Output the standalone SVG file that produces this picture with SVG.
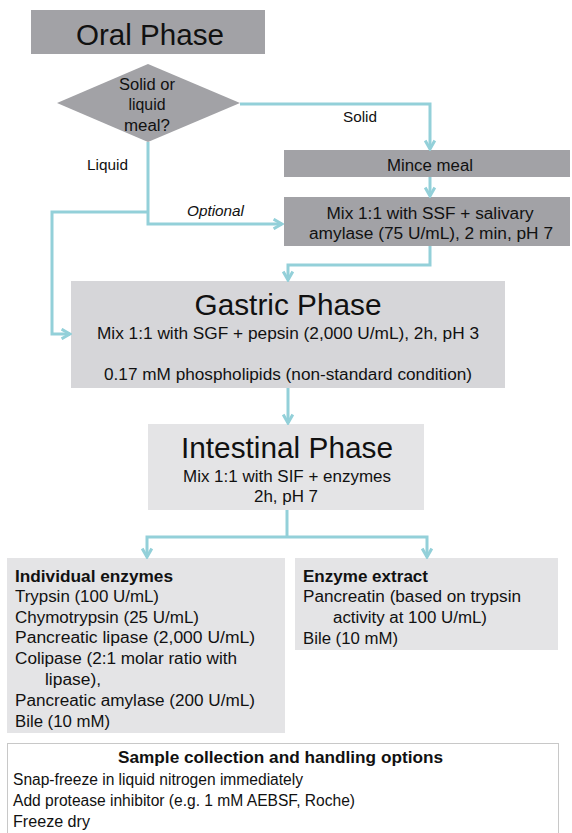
<svg xmlns="http://www.w3.org/2000/svg" width="572" height="833" viewBox="0 0 572 833">
<style>
text{font-family:"Liberation Sans",Arial,sans-serif;fill:#111;font-size:16px}
.dark{fill:#a2a2a6}
.light{fill:#d6d6d9}
.lighter{fill:#e4e4e6}
.c{text-anchor:middle}
.con{fill:none;stroke:#93d0d9;stroke-width:3;stroke-linejoin:miter}
.b{font-weight:bold}
.lbl{font-size:15px}
</style>
<defs>
<marker id="ah" viewBox="0 0 10 10" refX="8" refY="5" markerWidth="4" markerHeight="4" orient="auto" markerUnits="strokeWidth">
<path d="M1,1 L8,5 L1,9" fill="none" stroke="#93d0d9" stroke-width="2.5"/>
</marker>
</defs>
<g id="oral">
<rect class="dark" x="31" y="10" width="234" height="44"/>
<text class="c" x="150" y="45" style="font-size:30px" textLength="148" lengthAdjust="spacingAndGlyphs">Oral Phase</text>
</g>
<g id="decision">
<polygon class="dark" points="148,64 240,103 148,142 57,103"/>
<text class="c" x="147" y="90" textLength="56" lengthAdjust="spacingAndGlyphs">Solid or</text>
<text class="c" x="147" y="110" textLength="37" lengthAdjust="spacingAndGlyphs">liquid</text>
<text class="c" x="147" y="131" textLength="46" lengthAdjust="spacingAndGlyphs">meal?</text>
</g>
<g id="mince">
<rect class="dark" x="284" y="150" width="286" height="27"/>
<text class="c" x="430" y="171" textLength="86" lengthAdjust="spacingAndGlyphs">Mince meal</text>
</g>
<g id="mix-ssf">
<rect class="dark" x="284" y="197" width="286" height="49"/>
<text class="c" x="430" y="219" textLength="207" lengthAdjust="spacingAndGlyphs">Mix 1:1 with SSF + salivary</text>
<text class="c" x="431" y="239" textLength="244" lengthAdjust="spacingAndGlyphs">amylase (75 U/mL), 2 min, pH 7</text>
</g>
<g id="gastric">
<rect class="light" x="71" y="281" width="434" height="107"/>
<text class="c" x="288" y="315" style="font-size:29px" textLength="187" lengthAdjust="spacingAndGlyphs">Gastric Phase</text>
<text class="c" x="288" y="339" textLength="382" lengthAdjust="spacingAndGlyphs">Mix 1:1 with SGF + pepsin (2,000 U/mL), 2h, pH 3</text>
<text class="c" x="288" y="380" textLength="368" lengthAdjust="spacingAndGlyphs">0.17 mM phospholipids (non-standard condition)</text>
</g>
<g id="intestinal">
<rect class="lighter" x="148" y="424" width="276" height="86"/>
<text class="c" x="287" y="458" style="font-size:30px" textLength="212" lengthAdjust="spacingAndGlyphs">Intestinal Phase</text>
<text class="c" x="287" y="482" textLength="208" lengthAdjust="spacingAndGlyphs">Mix 1:1 with SIF + enzymes</text>
<text class="c" x="286" y="502" textLength="64" lengthAdjust="spacingAndGlyphs">2h, pH 7</text>
</g>
<g id="individual">
<rect class="lighter" x="7" y="558" width="278" height="175"/>
<text class="b" x="15" y="582" textLength="158" lengthAdjust="spacingAndGlyphs">Individual enzymes</text>
<text x="15" y="602" textLength="144" lengthAdjust="spacingAndGlyphs">Trypsin (100 U/mL)</text>
<text x="15" y="623" textLength="184" lengthAdjust="spacingAndGlyphs">Chymotrypsin (25 U/mL)</text>
<text x="15" y="643" textLength="240" lengthAdjust="spacingAndGlyphs">Pancreatic lipase (2,000 U/mL)</text>
<text x="15" y="664" textLength="222" lengthAdjust="spacingAndGlyphs">Colipase (2:1 molar ratio with</text>
<text x="45" y="685" textLength="56" lengthAdjust="spacingAndGlyphs">lipase),</text>
<text x="15" y="706" textLength="240" lengthAdjust="spacingAndGlyphs">Pancreatic amylase (200 U/mL)</text>
<text x="15" y="727" textLength="95" lengthAdjust="spacingAndGlyphs">Bile (10 mM)</text>
</g>
<g id="extract">
<rect class="lighter" x="295" y="558" width="263" height="92"/>
<text class="b" x="303" y="582" textLength="125" lengthAdjust="spacingAndGlyphs">Enzyme extract</text>
<text x="303" y="602" textLength="218" lengthAdjust="spacingAndGlyphs">Pancreatin (based on trypsin</text>
<text x="333" y="623" textLength="154" lengthAdjust="spacingAndGlyphs">activity at 100 U/mL)</text>
<text x="303" y="644" textLength="95" lengthAdjust="spacingAndGlyphs">Bile (10 mM)</text>
</g>
<g id="sample">
<rect x="7.5" y="743.5" width="551" height="95" fill="#fff" stroke="#c8c8c8" stroke-width="1"/>
<text class="b c" x="280.5" y="763" textLength="325" lengthAdjust="spacingAndGlyphs">Sample collection and handling options</text>
<text x="13" y="785" textLength="290" lengthAdjust="spacingAndGlyphs">Snap-freeze in liquid nitrogen immediately</text>
<text x="13" y="806" textLength="342" lengthAdjust="spacingAndGlyphs">Add protease inhibitor (e.g. 1 mM AEBSF, Roche)</text>
<text x="13" y="827" textLength="77" lengthAdjust="spacingAndGlyphs">Freeze dry</text>
</g>
<g id="connectors">
<polyline class="con" points="240,104 430,104 430,149" marker-end="url(#ah)"/>
<polyline class="con" points="430,177 430,196" marker-end="url(#ah)"/>
<polyline class="con" points="430,246 430,265 288,265 288,280" marker-end="url(#ah)"/>
<polyline class="con" points="148,142 148,224 282,224" marker-end="url(#ah)"/>
<polyline class="con" points="148,212 52,212 52,334 70,334" marker-end="url(#ah)"/>
<polyline class="con" points="288,388 288,423" marker-end="url(#ah)"/>
<polyline class="con" points="287,510 287,537"/>
<polyline class="con" points="287,537 147,537 147,557" marker-end="url(#ah)"/>
<polyline class="con" points="287,537 427,537 427,557" marker-end="url(#ah)"/>
<text class="lbl" x="343" y="122" textLength="34" lengthAdjust="spacingAndGlyphs">Solid</text>
<text class="lbl" x="87" y="170" textLength="41" lengthAdjust="spacingAndGlyphs">Liquid</text>
<text class="lbl" x="187" y="216" font-style="italic" textLength="57" lengthAdjust="spacingAndGlyphs">Optional</text>
</g>
</svg>
